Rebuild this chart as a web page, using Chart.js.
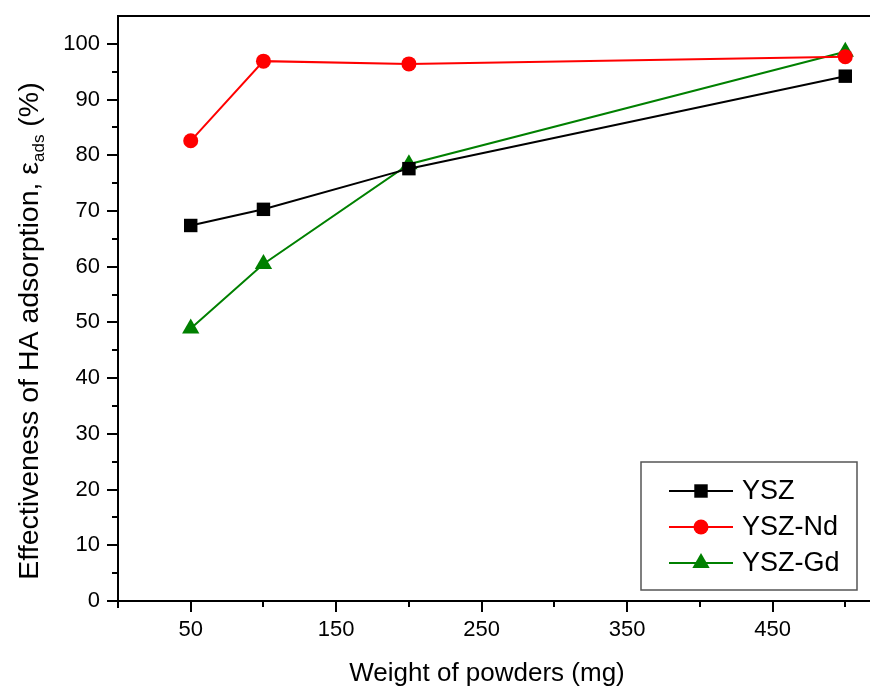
<!DOCTYPE html>
<html><head><meta charset="utf-8">
<script src="https://cdn.jsdelivr.net/npm/chart.js@4/dist/chart.umd.min.js"></script>
<style>html,body{margin:0;padding:0;background:#fff}#wrap{width:870px;height:689px;position:relative}</style>
</head><body><div id="wrap"><canvas id="c" width="870" height="689"></canvas></div>
<script>
// ---- data ----
const weights = [50, 100, 200, 500];
const ysz   = [67.4, 70.3, 77.6, 94.2];
const yszNd = [82.6, 96.9, 96.4, 97.7];
const yszGd = [48.9, 60.5, 78.4, 98.6];
const seriesNames = ['YSZ', 'YSZ-Nd', 'YSZ-Gd'];
const xMajorTicks = [50, 150, 250, 350, 450];
const xMinorTicks = [100, 200, 300, 400, 500];
const yMajorTicks = [0, 10, 20, 30, 40, 50, 60, 70, 80, 90, 100];
const yMinorTicks = [5, 15, 25, 35, 45, 55, 65, 75, 85, 95];
const xTitle = 'Weight of powders (mg)';
const yTitleMain = 'Effectiveness of HA adsorption, ';
const yTitleSym = 'ε';
const yTitleSub = 'ads';
const yTitleTail = ' (%)';

const FONT = '"Liberation Sans", Arial, sans-serif';
const toPts = ys => weights.map((w, i) => ({x: w, y: ys[i]}));

const styles = [
  {color: '#000000', pointStyle: 'rect', radius: 9.5},
  {color: '#ff0000', pointStyle: 'circle', radius: 7.5},
  {color: '#008000', pointStyle: 'triangle', radius: 10}
];
const values = [ysz, yszNd, yszGd];

const datasets = values.map((v, i) => ({
  label: seriesNames[i],
  data: toPts(v),
  borderColor: styles[i].color,
  backgroundColor: styles[i].color,
  borderWidth: 2,
  pointStyle: styles[i].pointStyle,
  pointRadius: styles[i].radius,
  pointHoverRadius: styles[i].radius,
  pointBorderWidth: 0,
  pointBackgroundColor: styles[i].color,
  pointBorderColor: styles[i].color,
  tension: 0,
  clip: false
}));

const zeroPad = s => { s.paddingTop = 0; s.paddingBottom = 0; s.paddingLeft = 0; s.paddingRight = 0; };

const axesPlugin = {
  id: 'axesPlugin',
  beforeDatasetsDraw(chart) {
    const {ctx, chartArea: a, scales: {x, y}} = chart;
    ctx.save();
    ctx.strokeStyle = '#000';
    ctx.lineWidth = 2;
    ctx.lineCap = 'butt';
    ctx.beginPath();
    ctx.moveTo(a.left, a.top); ctx.lineTo(a.left, a.bottom + 7);
    ctx.moveTo(a.left - 7, a.bottom); ctx.lineTo(a.right, a.bottom);
    ctx.moveTo(a.left - 1, a.top); ctx.lineTo(a.right, a.top);
    ctx.stroke();
    ctx.beginPath();
    xMajorTicks.forEach(v => { const p = Math.round(x.getPixelForValue(v)); ctx.moveTo(p, a.bottom); ctx.lineTo(p, a.bottom + 11); });
    xMinorTicks.forEach(v => { const p = Math.round(x.getPixelForValue(v)); ctx.moveTo(p, a.bottom); ctx.lineTo(p, a.bottom + 6); });
    yMajorTicks.forEach(v => { const p = Math.round(y.getPixelForValue(v)); ctx.moveTo(a.left, p); ctx.lineTo(a.left - 11, p); });
    yMinorTicks.forEach(v => { const p = Math.round(y.getPixelForValue(v)); ctx.moveTo(a.left, p); ctx.lineTo(a.left - 6, p); });
    ctx.stroke();
    ctx.restore();
  },
  afterDraw(chart) {
    const {ctx, chartArea: a} = chart;
    ctx.save();
    ctx.fillStyle = '#000';
    ctx.font = '26px ' + FONT;
    ctx.textAlign = 'center';
    ctx.textBaseline = 'alphabetic';
    ctx.fillText(xTitle, (a.left + a.right) / 2 - 7, 681);
    const mainFont = '28.5px ' + FONT, subFont = '17px ' + FONT;
    ctx.font = mainFont;
    const w1 = ctx.measureText(yTitleMain).width;
    const w2 = ctx.measureText(yTitleSym).width;
    const w4 = ctx.measureText(yTitleTail).width;
    ctx.font = subFont;
    const w3 = ctx.measureText(yTitleSub).width;
    const total = w1 + w2 + w3 + w4;
    ctx.translate(38, 331);
    ctx.rotate(-Math.PI / 2);
    ctx.textAlign = 'left';
    let px = -total / 2;
    ctx.font = mainFont;
    ctx.fillText(yTitleMain, px, 0); px += w1;
    ctx.fillText(yTitleSym, px, 0); px += w2;
    ctx.font = subFont;
    ctx.fillText(yTitleSub, px, 6); px += w3;
    ctx.font = mainFont;
    ctx.fillText(yTitleTail, px, 0);
    ctx.restore();

    ctx.save();
    const bx = 641, by = 462, bw = 216, bh = 128;
    ctx.strokeStyle = '#555';
    ctx.lineWidth = 1.5;
    ctx.strokeRect(bx, by, bw, bh);
    ctx.font = '27px ' + FONT;
    ctx.textAlign = 'left';
    ctx.textBaseline = 'middle';
    chart.data.datasets.forEach((ds, i) => {
      const cy = 491 + i * 36;
      ctx.strokeStyle = ds.borderColor;
      ctx.lineWidth = 2;
      ctx.beginPath(); ctx.moveTo(669, cy); ctx.lineTo(733, cy); ctx.stroke();
      ctx.fillStyle = ds.pointBackgroundColor;
      ctx.strokeStyle = ds.pointBorderColor;
      Chart.helpers.drawPoint(ctx, {pointStyle: ds.pointStyle, radius: ds.pointRadius, borderWidth: 0, rotation: 0}, 701, cy);
      ctx.fillStyle = '#000';
      ctx.fillText(ds.label, 742, cy + 1);
    });
    ctx.restore();
  }
};

new Chart(document.getElementById('c'), {
  type: 'line',
  data: {datasets},
  options: {
    responsive: false,
    animation: false,
    events: [],
    layout: {autoPadding: false, padding: {top: 16, left: 0, right: 0, bottom: 0}},
    plugins: {legend: {display: false}, tooltip: {enabled: false}},
    scales: {
      x: {
        type: 'linear', min: 0, max: 517,
        afterBuildTicks: s => { s.ticks = xMajorTicks.map(v => ({value: v})); },
        afterFit: s => { s.height = 88; zeroPad(s); },
        grid: {display: false, drawTicks: false},
        border: {display: false},
        ticks: {color: '#000', font: {family: FONT, size: 22}, padding: 16, maxRotation: 0, autoSkip: false}
      },
      y: {
        type: 'linear', min: 0, max: 105,
        afterBuildTicks: s => { s.ticks = yMajorTicks.map(v => ({value: v})); },
        afterFit: s => { s.width = 118; zeroPad(s); },
        grid: {display: false, drawTicks: false},
        border: {display: false},
        ticks: {color: '#000', font: {family: FONT, size: 22}, padding: 18, autoSkip: false}
      }
    }
  },
  plugins: [axesPlugin]
});
</script>
</body></html>
